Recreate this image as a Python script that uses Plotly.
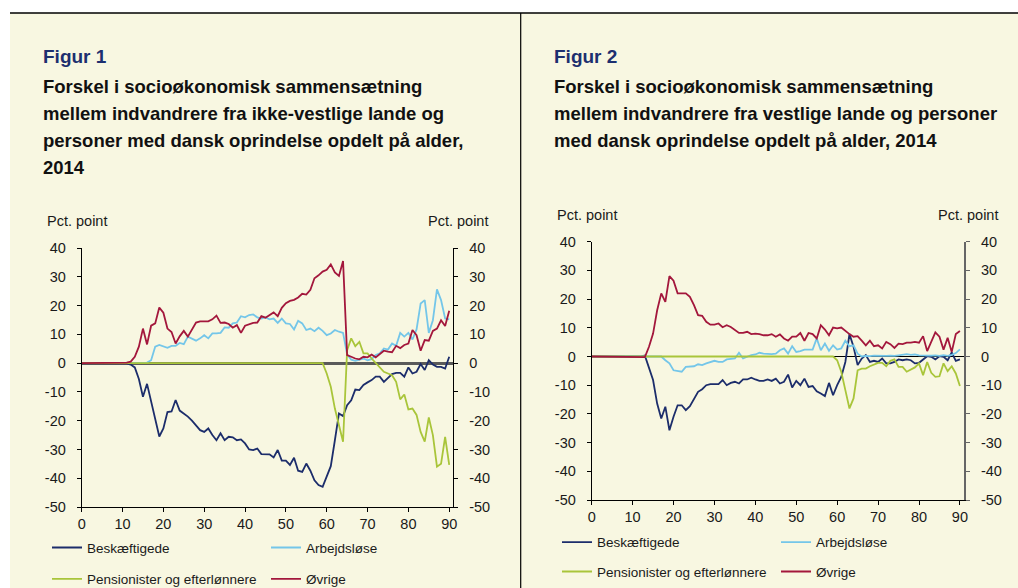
import plotly.graph_objects as go

# ---------------- data ----------------
ages = list(range(91))
x_ticks = [0, 10, 20, 30, 40, 50, 60, 70, 80, 90]
y_ticks = [-50, -40, -30, -20, -10, 0, 10, 20, 30, 40]
y_ticktext = ["-50", "-40", "-30", "-20", "-10", "0", "10", "20", "30", "40"]

series_names = ["Beskæftigede", "Arbejdsløse", "Pensionister og efterlønnere", "Øvrige"]

p1_besk = [0, 0, 0, 0, 0, 0, 0, 0, 0, 0, 0,
           -0.1, -0.5, -1.5, -5.5, -11.7, -7.2, -13, -19, -25.5, -22.7,
           -17, -16.8, -12.8, -16.5, -17.5, -18.6, -20, -21.5, -23.3, -23.9,
           -22.7, -25, -26.8, -24.4, -26.8, -25.6, -25.8, -26.8, -26.5, -27.9,
           -30, -30.2, -29.7, -31.6, -31.6, -31.7, -32.8, -30.2, -33.9, -33.9,
           -35.4, -32.9, -37.4, -37.8, -34.9, -37.4, -40.7, -42.4, -43, -39.5,
           -35.8, -26.8, -17.5, -18.4, -14.6, -12.9, -9.2, -9.4, -7.6, -6.7,
           -5.9, -4.7, -4.7, -6.5, -5, -3.8, -3.4, -3.4, -4.7, -1.5,
           -3.6, -3, -0.3, -2.4, 1, -0.5, -1.3, -1.3, -1.9, 2.2]
p1_arb = [0, 0, 0, 0, 0, 0, 0, 0, 0, 0, 0, 0, 0, 0, 0, 0,
          0.2, 1, 5.7, 6.3, 5.7,
          5.3, 6, 6, 7, 6.6, 9.2, 8.6, 7.8, 8.6, 9.7,
          8.6, 10.3, 10.3, 10.5, 12.4, 12.3, 13.8, 14.1, 16.3, 15.9,
          16.7, 16.9, 15.9, 15.5, 15.9, 15.2, 15.5, 14, 15.5, 13.8,
          13.6, 11.7, 14.7, 13.8, 11.5, 12, 11.1, 12.3, 11.2, 9.7,
          10.3, 11.5, 10.9, 10.5, 3, 1.2, 0.8, 1.3, 1.6, 1,
          1.4, 2.8, 3.4, 5.1, 4.7, 6.8, 6, 10.5, 9.2, 10.5,
          8.2, 11.7, 20.7, 21.9, 10.5, 14.9, 25.6, 21.9, 15.5, 15.2]
p1_pens = [0, 0, 0, 0, 0, 0, 0, 0, 0, 0, 0, 0, 0, 0, 0, 0, 0, 0, 0, 0,
           0, 0, 0, 0, 0, 0, 0, 0, 0, 0, 0, 0, 0, 0, 0, 0, 0, 0, 0, 0,
           0, 0, 0, 0, 0, 0, 0, 0, 0, 0, 0, 0, 0, 0, 0, 0, 0, 0, 0, 0,
           -3.6, -8.2, -15.8, -22, -27.3, 4.5, 8.6, 5.9, 7.4, 3.4,
           3.4, 1.6, 0, -1.6, -3, -3.6, -4.2, -6.5, -12.6, -10.9,
           -16.1, -15.8, -18, -23.9, -27.3, -18.9, -25, -36, -35, -25.6, -35.4]
p1_ovr = [0, 0, 0, 0, 0, 0, 0, 0, 0, 0, 0,
          0.2, 0.5, 2.2, 5.7, 12, 6.5, 13, 13.8, 19.3, 17.5,
          12, 10.8, 6.8, 9.3, 11.2, 9.2, 11.7, 14.1, 14.5, 14.4,
          14.5, 15.2, 16.5, 14, 14.1, 13.6, 12.3, 13.2, 10.5, 13,
          13.6, 14, 14.1, 16.3, 15.8, 16.8, 17.6, 16.3, 19.2, 20.8,
          21.6, 22, 22.8, 24.1, 23.8, 25.5, 29.5, 30.5, 31.8, 32.4,
          34.3, 31.5, 30.3, 35.5, 2.8, 2.2, 1.6, 1.3, 2.2, 2,
          3, 2, 3.3, 4.3, 4, 3.8, 6, 5.2, 6.3, 6.8,
          11.5, 9.7, 4.3, 8, 7.8, 11.2, 12, 14.9, 12.9, 18.2]

p2_besk = [0, 0, 0, 0, 0, 0, 0, 0, 0, 0, 0, 0, 0,
           0.3, -3.6, -8.2, -16.4, -21.6, -17.5, -25.7, -21,
           -17, -17, -18.7, -17.3, -14.6, -12.3, -11.4, -10, -9.6, -9.6,
           -9.6, -8.2, -10, -9.2, -8.8, -9.4, -8, -8, -7.4, -8,
           -8.5, -8.5, -8, -8.5, -7.7, -9.4, -8.8, -6.3, -10.8, -8.5,
           -10, -7.7, -10.6, -10.3, -12.1, -12.9, -13.8, -9.2, -13.5, -10,
           -7.1, -1.9, 7.8, 3.4, -3, -0.7, 0.5, -1.9, -1.5, -1.9,
           -0.7, -2.4, -2.4, -1.9, -1, -1.3, -1, -1.3, -2.4, -2.2,
           -1, 0.1, -0.1, -1, 0.1, -0.1, -1.3, 1.4, -1.5, -1]
p2_arb = [0, 0, 0, 0, 0, 0, 0, 0, 0, 0, 0, 0, 0, 0, 0, 0, 0, 0,
          -1.3, -2.4, -4.8,
          -5, -5.3, -3.6, -3.6, -3.4, -2.7, -3, -2.4, -1.9, -1.5,
          -1.9, -1.9, -1, -0.9, -0.7, 1.3, -0.7, -0.1, 0.5, 0.7,
          1.3, 1, 0.8, 0.8, 1, 2.2, 2.8, 1, 3.6, 1.6,
          1.9, 2.4, 2.4, 2.4, 6.3, 2.2, 4.5, 2, 3.9, 2.4,
          2.8, 5.5, 3.6, 3.9, 1, 0, 0.2, 0.1, 0.3, 0.2,
          0.1, 0.2, 0.3, 0.2, 0.4, 0.5, 0.8, 0.6, 0.7, 0.4,
          0.3, 0.2, 0.3, 0.4, 0.2, 0.5, 0.2, 0.6, 1.2, 2.5]
p2_pens = [0, 0, 0, 0, 0, 0, 0, 0, 0, 0, 0, 0, 0, 0, 0, 0, 0, 0, 0, 0,
           0, 0, 0, 0, 0, 0, 0, 0, 0, 0, 0, 0, 0, 0, 0, 0, 0, 0, 0, 0,
           0, 0, 0, 0, 0, 0, 0, 0, 0, 0, 0, 0, 0, 0, 0, 0, 0, 0, 0, 0,
           -1.3, -5.3, -11.7, -18.1, -14.6, -4.8, -4.2, -4.2, -3.4, -2.7,
           -2.2, -2.2, -3.4, -1.5, -1, -3.6, -3.6, -5.3, -4.5, -3.8,
           -2.4, -6.5, -1.9, -5.7, -7.1, -6.9, -2.4, -5.1, -3.4, -5.9, -10.3]
p2_ovr = [0, 0, 0, 0, 0, 0, 0, 0, 0, 0, 0, 0, 0,
          -0.2, 3.4, 8, 16.1, 22, 19, 28, 26.4,
          22, 22, 22, 20.8, 17.9, 14.4, 14.2, 12.1, 11.1, 11.1,
          11.5, 10.2, 10.9, 10.3, 9.4, 8.2, 8.2, 8.6, 7.8, 8,
          7.8, 7.4, 7.4, 7.8, 6.9, 7.7, 6.3, 5.5, 6.9, 6.9,
          8.2, 5.5, 8.2, 7.8, 6.3, 10.9, 9.4, 7.4, 10.1, 9.8,
          10.1, 8.9, 7.8, 6.9, 7.1, 5.5, 3.9, 5.5, 3.6, 3.9,
          2.8, 5.1, 4.3, 3, 4.5, 4.3, 4.8, 4.8, 5.1, 4.8,
          7.1, 1.9, 5.1, 8.4, 6.9, 2.4, 6.5, 1.6, 7.8, 8.9]

titles_1 = ["Forskel i socioøkonomisk sammensætning",
            "mellem indvandrere fra ikke-vestlige lande og",
            "personer med dansk oprindelse opdelt på alder,",
            "2014"]
titles_2 = ["Forskel i socioøkonomisk sammensætning",
            "mellem indvandrere fra vestlige lande og personer",
            "med dansk oprindelse opdelt på alder, 2014"]

for arr in (p1_besk, p1_arb, p1_pens, p1_ovr, p2_besk, p2_arb, p2_pens, p2_ovr):
    if len(arr) != len(ages):
        raise ValueError("length %d" % len(arr))

# ---------------- style ----------------
W, H = 1018, 588
FONT = "Liberation Sans, Arial, Helvetica, sans-serif"
colors = ["#1c2d6b", "#74c6e9", "#a9c53a", "#a3173c"]
BEIGE = "#f8f7e1"
TXT = "#1a1a1a"


def fx(p):
    return p / W


def fy(p):
    return 1 - p / H


fig = go.Figure()

panel1 = [p1_besk, p1_arb, p1_pens, p1_ovr]
panel2 = [p2_besk, p2_arb, p2_pens, p2_ovr]
leg1 = ["legend", "legend", "legend2", "legend2"]
leg2 = ["legend3", "legend3", "legend4", "legend4"]

for name, vals, col, lg in zip(series_names, panel1, colors, leg1):
    fig.add_trace(go.Scatter(x=ages, y=vals, mode="lines", name=name,
                             line=dict(color=col, width=1.8),
                             xaxis="x", yaxis="y", legend=lg))
for name, vals, col, lg in zip(series_names, panel2, colors, leg2):
    fig.add_trace(go.Scatter(x=ages, y=vals, mode="lines", name=name,
                             line=dict(color=col, width=1.8),
                             xaxis="x2", yaxis="y3", legend=lg))
# empty traces so that the right-hand axes get their subplots
fig.add_trace(go.Scatter(x=[], y=[], xaxis="x", yaxis="y2", showlegend=False))
fig.add_trace(go.Scatter(x=[], y=[], xaxis="x2", yaxis="y4", showlegend=False))

tickfont = dict(family=FONT, size=14.5, color=TXT)


def xax(domain, anchor):
    return dict(domain=domain, anchor=anchor, range=[0, 91], tickvals=x_ticks,
                ticks="outside", ticklen=4, tickcolor="#000", showline=True,
                linecolor="#000", linewidth=1, showgrid=False, zeroline=False,
                tickfont=tickfont, fixedrange=True, automargin=False)


def yax(domain, anchor, side, linecolor, linewidth, zl=False, zlcolor="#000", zlw=1):
    d = dict(domain=domain, anchor=anchor, side=side, range=[-50, 40],
             tickvals=y_ticks, ticktext=y_ticktext, ticks="outside", ticklen=4,
             tickcolor=linecolor, showline=True, linecolor=linecolor,
             linewidth=linewidth, showgrid=False, zeroline=zl,
             zerolinecolor=zlcolor, zerolinewidth=zlw, tickfont=tickfont,
             ticklabelstandoff=8, fixedrange=True, automargin=False)
    return d


d1x = [fx(81.7), fx(453.3)]
d1y = [fy(507), fy(248)]
d2x = [fx(591.7), fx(964)]
d2y = [fy(500), fy(241.7)]

layout = dict(
    width=W, height=H, autosize=False,
    margin=dict(l=0, r=0, t=0, b=0, pad=0, autoexpand=False),
    paper_bgcolor="white", plot_bgcolor="rgba(0,0,0,0)",
    font=dict(family=FONT, color=TXT),
    xaxis=xax(d1x, "y"),
    yaxis=yax(d1y, "x", "left", "#000", 1, True, "#5a5a5a", 3),
    yaxis2=dict(yax(d1y, "x", "right", "#000", 1), overlaying="y"),
    xaxis2=xax(d2x, "y3"),
    yaxis3=yax(d2y, "x2", "left", "#000", 1, True, "#000", 1.2),
    yaxis4=dict(yax(d2y, "x2", "right", "#666", 2), overlaying="y3"),
)

legfont = dict(family=FONT, size=13.5, color=TXT)


def leg(xp, yp):
    return dict(orientation="h", x=fx(xp), xanchor="left", y=fy(yp), yanchor="middle",
                bgcolor="rgba(0,0,0,0)", font=legfont, entrywidth=174,
                entrywidthmode="pixels", itemclick=False, itemdoubleclick=False)


layout["legend"] = leg(47, 547.7)
layout["legend2"] = leg(47, 579)
layout["legend3"] = leg(557, 542.3)
layout["legend4"] = leg(557, 571.7)

shapes = [
    dict(type="rect", xref="paper", yref="paper", x0=fx(10), x1=1, y0=0, y1=fy(13),
         fillcolor=BEIGE, line=dict(width=0), layer="below"),
    dict(type="line", xref="paper", yref="paper", x0=fx(10), x1=1, y0=fy(13), y1=fy(13),
         line=dict(color="#000", width=1.5), layer="below"),
    dict(type="line", xref="paper", yref="paper", x0=fx(520.7), x1=fx(520.7), y0=0, y1=fy(13),
         line=dict(color="#000", width=1.2), layer="below"),
]
layout["shapes"] = shapes

ann = []
ann.append(dict(text="<b>Figur 1</b>", x=fx(40.5), y=fy(56), xref="paper", yref="paper",
                xanchor="left", yanchor="middle", showarrow=False,
                font=dict(family=FONT, size=19, color="#1d2f6f")))
ann.append(dict(text="<b>Figur 2</b>", x=fx(551.5), y=fy(56), xref="paper", yref="paper",
                xanchor="left", yanchor="middle", showarrow=False,
                font=dict(family=FONT, size=19, color="#1d2f6f")))
line_y = [86, 113, 140, 167]
for t, yy in zip(titles_1, line_y):
    ann.append(dict(text="<b>%s</b>" % t, x=fx(40.5), y=fy(yy), xref="paper", yref="paper",
                    xanchor="left", yanchor="middle", showarrow=False,
                    font=dict(family=FONT, size=18.5, color="#111")))
for t, yy in zip(titles_2, line_y):
    ann.append(dict(text="<b>%s</b>" % t, x=fx(551.5), y=fy(yy), xref="paper", yref="paper",
                    xanchor="left", yanchor="middle", showarrow=False,
                    font=dict(family=FONT, size=18.5, color="#111")))
for cx, cy in [(76.5, 221), (457.5, 221), (587.3, 215), (967.5, 215)]:
    ann.append(dict(text="Pct. point", x=fx(cx), y=fy(cy), xref="paper", yref="paper",
                    xanchor="center", yanchor="middle", showarrow=False,
                    font=dict(family=FONT, size=14.5, color=TXT)))
layout["annotations"] = ann

fig.update_layout(**layout)
fig.write_html("out.html", config={"displayModeBar": False},
               post_script="document.body.style.margin='0';document.body.style.overflow='hidden';")
